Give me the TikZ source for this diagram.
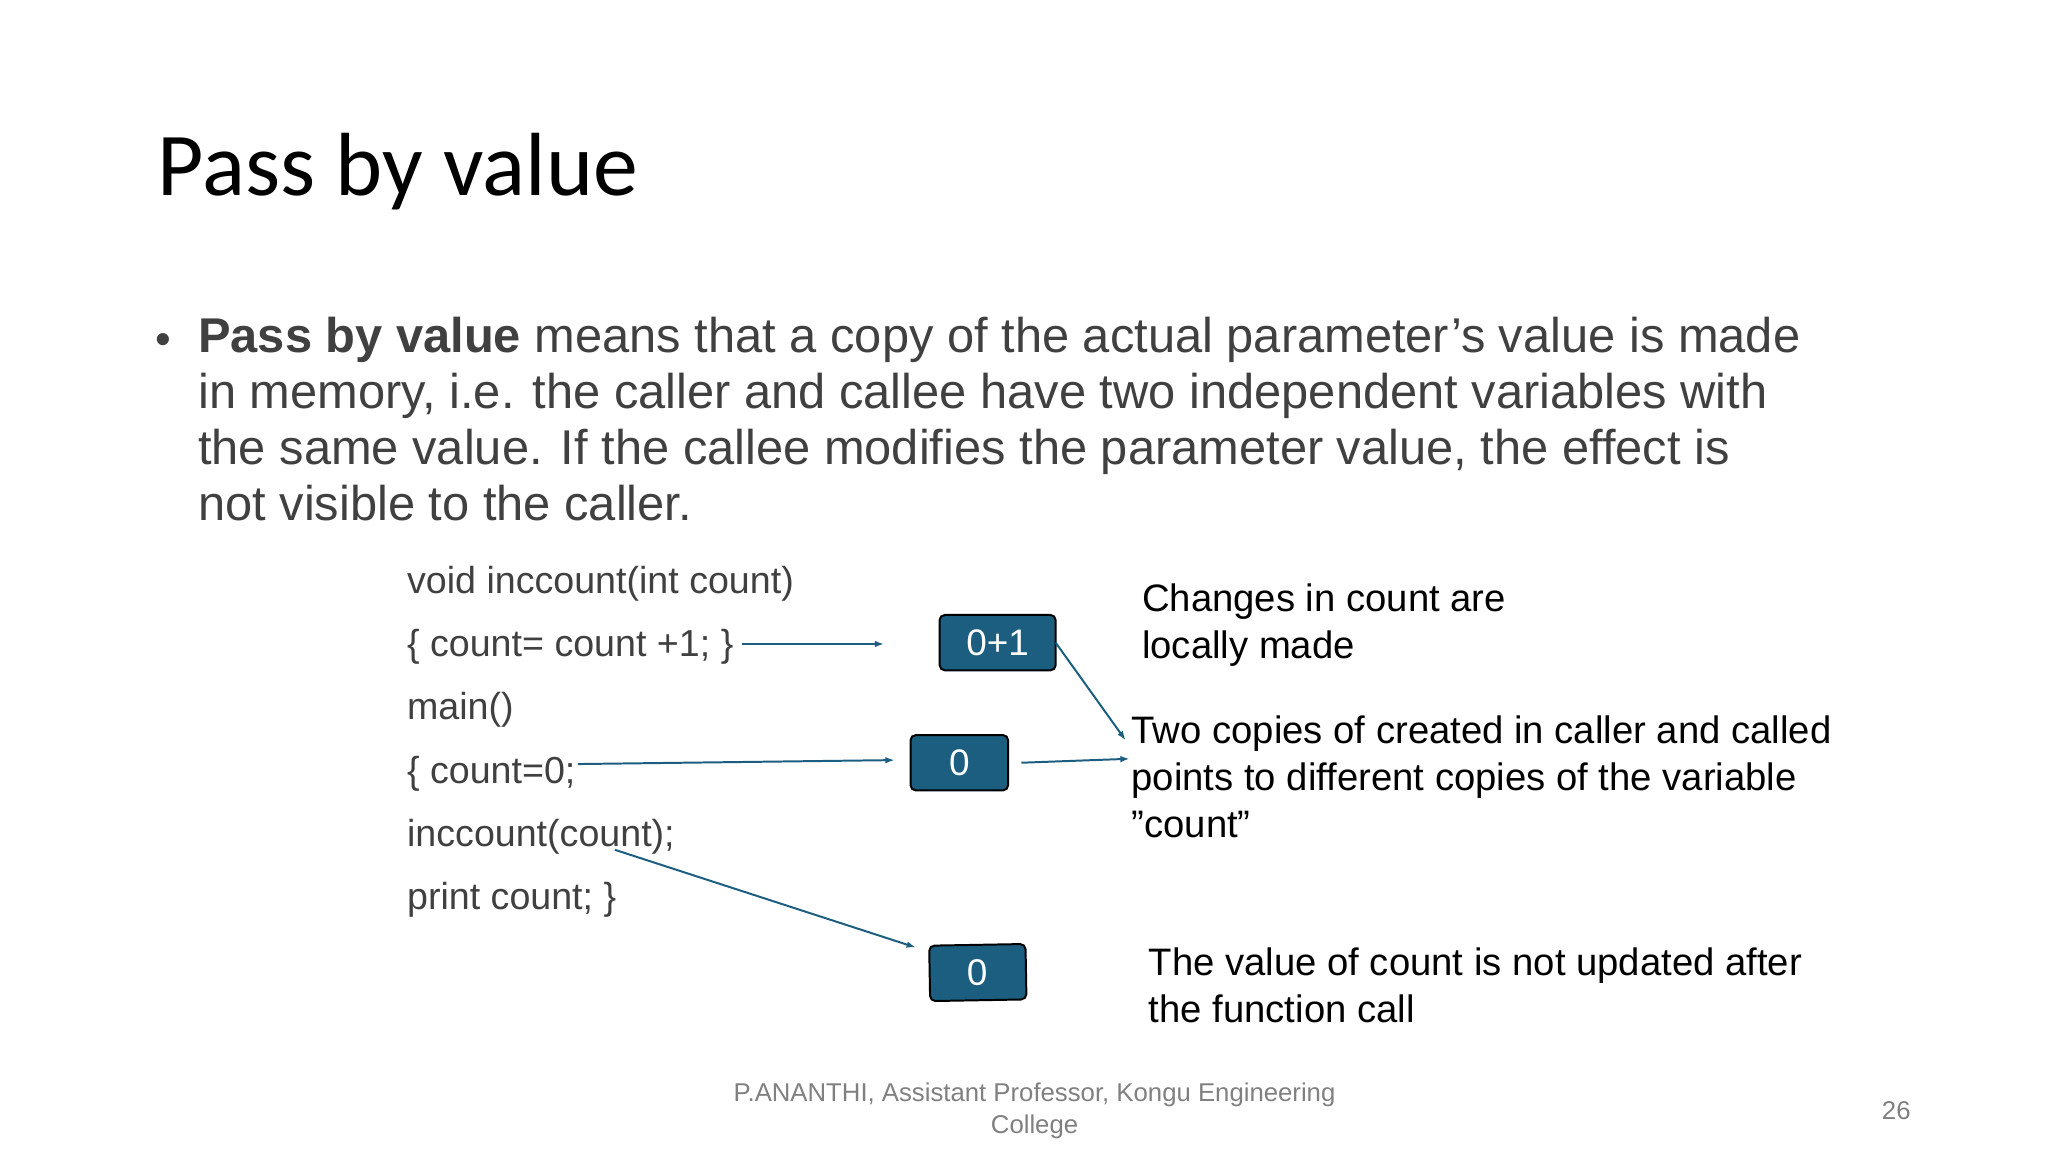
\documentclass[tikz,border=0pt]{standalone}
\usepackage{fontspec}
\setmainfont{Liberation Sans}
\newfontfamily\titlefont{Carlito}
\usetikzlibrary{arrows.meta}
\definecolor{teal}{HTML}{1B5E80}
\definecolor{txt}{HTML}{404040}
\begin{document}
\begin{tikzpicture}[x=1pt,y=-1pt,
  valbox/.style={draw=black,line width=1.5pt,fill=teal,rounded corners=4pt,text=white,font=\fontsize{28}{30}\selectfont,minimum height=42pt},
  code/.style={anchor=west,text=txt,font=\fontsize{28.5}{30}\selectfont},
  note/.style={anchor=north west,align=left,font=\fontsize{29}{35.5}\selectfont},
  conn/.style={draw=teal,line width=1.5pt,-{Latex[length=7pt,width=5pt]}}]
\useasboundingbox (0,0) rectangle (1552,873);
\node[anchor=west,font=\titlefont\fontsize{68}{70}\selectfont,text=black] (title) at (116,130) {Pass by value};
\node[anchor=west,text=txt,font=\fontsize{34}{36}\selectfont] (bul) at (114,261) {•};
\node[anchor=north west,align=left,text=txt,inner sep=0pt,font=\fontsize{37}{42.5}\selectfont] (body) at (150,240)
 {\textbf{Pass by value} means that a copy of the actual parameter’s value is made\\in memory, i.e. the caller and callee have two independent variables with\\the same value. If the callee modifies the parameter value, the effect is\\not visible to the caller.};
\node[code] (c1) at (305,442) {void inccount(int count)};
\node[code] (c2) at (305,490) {\{ count= count +1; \}};
\node[code] (c3) at (305,538) {main()};
\node[code] (c4) at (305,586) {\{ count=0;};
\node[code] (c5) at (305,634) {inccount(count);};
\node[code] (c6) at (305,682) {print count; \}};
\node[valbox,minimum width=88pt] (b1) at (756,487) {0+1};
\node[valbox,minimum width=74pt] (b2) at (727,578) {0};
\node[valbox,minimum width=73pt,rotate=1] (b3) at (741,737) {0};
\node[note] (n1) at (862,439) {Changes in count are\\locally made};
\node[note] (n2) at (854,539) {Two copies of created in caller and called\\points to different copies of the variable\\\char34count\char34};
\node[note] (n3) at (867,715) {The value of count is not updated after\\the function call};
\node[font=\fontsize{19.5}{24}\selectfont,text=gray,align=center] (foot) at (784,842) {P.ANANTHI, Assistant Professor, Kongu Engineering\\College};
\node[font=\fontsize{19.5}{24}\selectfont,text=gray] (pg) at (1437,842) {26};
\coordinate (s1) at (562,488); \coordinate (e1) at (670,488);
\coordinate (s2) at (438,579); \coordinate (e2) at (678,576);
\coordinate (s3) at (774,578); \coordinate (e3) at (856,575);
\coordinate (s4) at (800,487); \coordinate (e4) at (853,561);
\coordinate (s5) at (466,644); \coordinate (e5) at (694,718);
\draw[conn] (s1) -- (e1);
\draw[conn] (s2) -- (e2);
\draw[conn] (s3) -- (e3);
\draw[conn] (s4) -- (e4);
\draw[conn] (s5) -- (e5);
\end{tikzpicture}
\end{document}
